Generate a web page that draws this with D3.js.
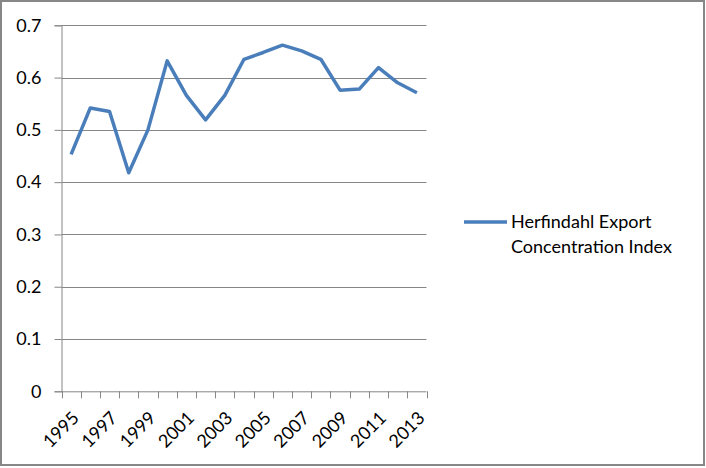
<!DOCTYPE html>
<html><head><meta charset="utf-8">
<script src="https://cdn.jsdelivr.net/npm/d3@7"></script>
<style>body{margin:0;background:#fff}svg{display:block}</style>
</head><body>
<svg id="c" width="706" height="468"></svg>
<script>
const years = ["1995","1996","1997","1998","1999","2000","2001","2002","2003","2004","2005","2006","2007","2008","2009","2010","2011","2012","2013"];
const values = [0.453,0.542,0.535,0.418,0.500,0.632,0.566,0.519,0.566,0.635,0.648,0.662,0.651,0.635,0.576,0.578,0.619,0.590,0.571];
const yTicks = [0,0.1,0.2,0.3,0.4,0.5,0.6,0.7];
const seriesName = ["Herfindahl Export","Concentration Index"];

(function(){
const svg = d3.select("#c");
const font = "Lato, 'Open Sans', sans-serif";
const pL = 61.5, pR = 426.5, pT = 25.3, pB = 391.3;

svg.append("rect").attr("x",1).attr("y",1).attr("width",703).attr("height",464)
  .attr("fill","#fff").attr("stroke","#878787").attr("stroke-width",2);

const x = d3.scaleBand().domain(years).range([pL,pR]);
const y = d3.scaleLinear().domain([0,0.7]).range([pB,pT]);

svg.append("g").selectAll("line").data(yTicks.slice(1)).join("line")
  .attr("x1",pL).attr("x2",pR)
  .attr("y1",d=>Math.round(y(d))+0.5).attr("y2",d=>Math.round(y(d))+0.5)
  .attr("stroke","#868686").attr("stroke-width",1);

const ya = svg.append("g").attr("transform",`translate(${pL},0)`)
  .call(d3.axisLeft(y).tickValues(yTicks).tickSize(7).tickPadding(13).tickFormat(d=>d===0?"0":d3.format(".1f")(d)));
ya.select(".domain").attr("stroke","#868686");
ya.selectAll(".tick line").attr("stroke","#868686");
ya.selectAll("text").attr("font-family",font).attr("font-size",18).attr("fill","#000");

const xa = svg.append("g").attr("transform",`translate(0,${pB})`);
xa.append("line").attr("x1",pL).attr("x2",pR).attr("y1",0.5).attr("y2",0.5).attr("stroke","#868686");
const bounds = years.map(d=>x(d)).concat([pR]);
xa.selectAll("line.t").data(bounds).join("line").attr("class","t")
  .attr("x1",d=>Math.round(d)+0.5).attr("x2",d=>Math.round(d)+0.5).attr("y1",0).attr("y2",7)
  .attr("stroke","#868686");
xa.selectAll("text").data(years.filter((d,i)=>i%2===0)).join("text")
  .attr("transform",d=>`translate(${x(d)+x.bandwidth()/2},${19}) rotate(-45)`)
  .attr("text-anchor","end").attr("dy","0.7em")
  .attr("font-family",font).attr("font-size",18).attr("fill","#000").text(d=>d);

const line = d3.line().x((d,i)=>x(years[i])+x.bandwidth()/2).y(d=>y(d));
svg.append("path").datum(values).attr("d",line).attr("fill","none")
  .attr("stroke","#4a7ebb").attr("stroke-width",3.5).attr("stroke-linejoin","round");

const lg = svg.append("g");
lg.append("line").attr("x1",464).attr("x2",507).attr("y1",222).attr("y2",222)
  .attr("stroke","#4a7ebb").attr("stroke-width",3.5);
lg.selectAll("text").data(seriesName).join("text")
  .attr("x",511).attr("y",(d,i)=>228+i*25)
  .attr("font-family",font).attr("font-size",18).attr("fill","#000").text(d=>d);
})();
</script>
</body></html>
